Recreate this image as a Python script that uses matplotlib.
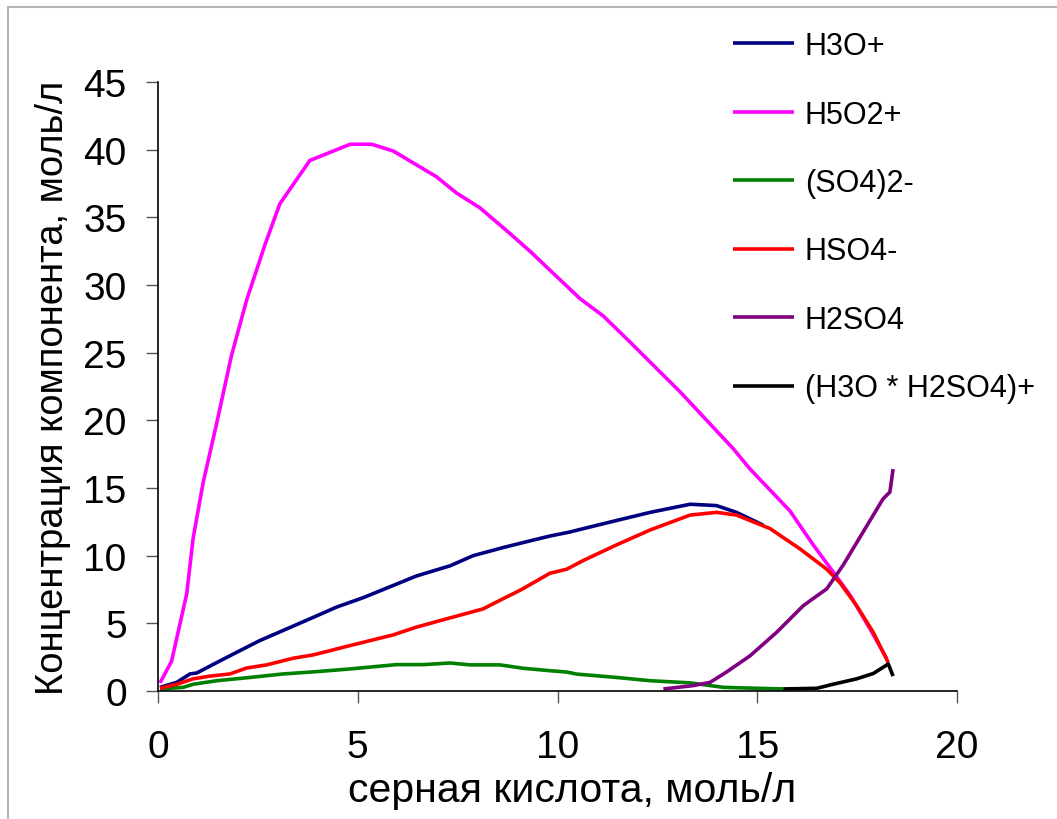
import matplotlib
matplotlib.use("Agg")
import matplotlib.pyplot as plt
from matplotlib.lines import Line2D

plt.rcParams['font.family'] = ['Liberation Sans', 'DejaVu Sans']

# ---- data ----
h3o_x = [0.05, 0.47, 0.80, 0.97, 1.47, 1.97, 2.55, 3.13, 3.80, 4.47, 5.14, 6.47, 7.31, 7.89, 8.64, 9.39, 9.81,
         10.31, 10.65, 11.48, 12.32, 13.32, 13.98, 14.48, 15.15]
h3o_y = [0.27, 0.64, 1.26, 1.33, 2.1, 2.86, 3.73, 4.47, 5.33, 6.2, 6.9, 8.5, 9.25, 10.0, 10.6, 11.15, 11.45,
         11.75, 12.0, 12.6, 13.2, 13.8, 13.7, 13.2, 12.25]

h5o2_x = [0.05, 0.34, 0.72, 0.88, 1.13, 1.47, 1.84, 2.22, 2.68, 3.05, 3.80, 4.81, 5.35, 5.89, 6.97, 7.47,
          8.06, 8.81, 9.31, 10.56, 11.15, 11.81, 13.07, 14.40, 14.82, 15.82, 16.40, 16.90, 17.32, 17.82, 18.24]
h5o2_y = [0.6, 2.2, 7.2, 11.3, 15.4, 19.8, 24.8, 28.9, 33.0, 36.0, 39.2, 40.4, 40.4, 39.9, 38.0, 36.8,
          35.7, 33.8, 32.5, 29.0, 27.7, 25.8, 22.1, 17.9, 16.4, 13.3, 10.8, 8.8, 7.1, 4.6, 2.4]

so4_x = [0.05, 0.63, 0.88, 1.47, 2.30, 3.13, 3.97, 4.81, 5.97, 6.64, 7.31, 7.81, 8.56, 9.14, 9.81,
         10.23, 10.48, 11.48, 12.32, 13.32, 14.15, 14.98, 15.65]
so4_y = [0.15, 0.27, 0.5, 0.76, 1.0, 1.26, 1.43, 1.63, 1.95, 1.95, 2.07, 1.93, 1.93, 1.68, 1.5,
         1.4, 1.25, 1.0, 0.76, 0.6, 0.27, 0.2, 0.15]

hso4_x = [0.05, 0.47, 0.88, 1.30, 1.80, 2.22, 2.72, 3.38, 3.89, 4.81, 5.89, 6.47, 7.06, 8.14, 8.47, 9.10,
          9.81, 10.23, 10.65, 11.48, 12.32, 13.32, 13.98, 14.48, 15.32, 16.07, 16.74, 17.07, 17.49, 17.91, 18.28]
hso4_y = [0.2, 0.5, 0.9, 1.1, 1.26, 1.7, 1.93, 2.42, 2.67, 3.36, 4.15, 4.72, 5.2, 6.07, 6.57, 7.5,
          8.7, 9.0, 9.65, 10.8, 11.9, 13.0, 13.2, 13.0, 12.0, 10.5, 9.0, 8.0, 6.3, 4.3, 2.1]

h2so4_x = [12.65, 13.40, 13.82, 14.23, 14.82, 15.49, 16.15, 16.74, 17.15, 17.65, 18.15, 18.32, 18.40]
h2so4_y = [0.15, 0.4, 0.64, 1.4, 2.6, 4.35, 6.3, 7.55, 9.3, 11.75, 14.2, 14.7, 16.4]

cplx_x = [15.65, 16.49, 16.90, 17.49, 17.91, 18.28, 18.40]
cplx_y = [0.15, 0.2, 0.5, 0.9, 1.3, 2.0, 1.1]

labels = ['H3O+', 'H5O2+', '(SO4)2-', 'HSO4-', 'H2SO4', '(H3O * H2SO4)+']
colors = ['#000080', '#FF00FF', '#008000', '#FF0000', '#800080', '#000000']

x_ticks = [0, 5, 10, 15, 20]
y_ticks = [0, 5, 10, 15, 20, 25, 30, 35, 40, 45]

# ---- figure ----
fig = plt.figure(figsize=(10.57, 8.2), dpi=100)
ax = fig.add_axes([158 / 1057, (820 - 692) / 820, (957 - 158) / 1057, (692 - 83) / 820])

series = [(h3o_x, h3o_y), (h5o2_x, h5o2_y), (so4_x, so4_y),
          (hso4_x, hso4_y), (h2so4_x, h2so4_y), (cplx_x, cplx_y)]
for (xs, ys), lab, col in zip(series, labels, colors):
    ax.plot(xs, ys, color=col, lw=2.6, label=lab, solid_capstyle='butt')

ax.set_xlim(0, 20)
ax.set_ylim(0, 45)
ax.set_xticks(x_ticks)
ax.set_yticks(y_ticks)
ax.tick_params(axis='both', direction='out', length=8.5, width=1.0, color='#555555',
               labelsize=28, labelcolor='black')
ax.tick_params(axis='x', pad=19)
ax.tick_params(axis='y', pad=14)
for s in ['top', 'right']:
    ax.spines[s].set_visible(False)
for s in ['left', 'bottom']:
    ax.spines[s].set_linewidth(1.2)
    ax.spines[s].set_color('black')

ax.set_xlabel('серная кислота, моль/л', fontsize=29.5)
ax.xaxis.set_label_coords(0.518, -0.132)
ax.set_ylabel('Концентрация компонента, моль/л', fontsize=27.5, labelpad=9)

leg = ax.legend(loc='upper left', bbox_to_anchor=(733 / 1057, 1 - 32 / 820),
                bbox_transform=fig.transFigure, frameon=False, fontsize=22,
                handlelength=2.0, handletextpad=0.35, labelspacing=1.26,
                borderaxespad=0, borderpad=0)
for line in leg.get_lines():
    line.set_linewidth(2.6)

# outer gray frame (left and top edges visible)
fig.add_artist(Line2D([8 / 1057, 8 / 1057], [0, 1 - 8 / 820], transform=fig.transFigure,
                      color='#b5b5b5', lw=1.5))
fig.add_artist(Line2D([8 / 1057, 1], [1 - 8 / 820, 1 - 8 / 820], transform=fig.transFigure,
                      color='#b5b5b5', lw=1.5))

fig.savefig('out.png', dpi=100, facecolor='white')
